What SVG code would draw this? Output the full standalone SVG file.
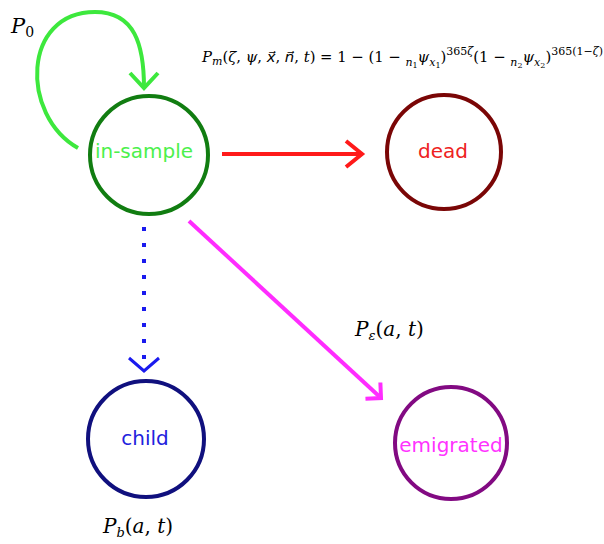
<svg xmlns="http://www.w3.org/2000/svg" width="604" height="544" viewBox="0 0 604 544">
  <style>
    .node { fill: #ffffff; stroke-width: 4; }
    .label { font-family: "DejaVu Sans", Verdana, sans-serif; font-size: 20px; text-anchor: middle; }
    .math { font-family: "DejaVu Serif", "Liberation Serif", serif; fill: #000000; }
    .it { font-style: italic; }
    .vec { font-family: "DejaVu Sans", sans-serif; font-style: italic; }
    .edge { fill: none; stroke-width: 4; }
  </style>
  <defs>
    <marker id="head-green" markerUnits="userSpaceOnUse" orient="auto" markerWidth="40" markerHeight="40" refX="0" refY="0" viewBox="-20 -20 40 40" overflow="visible">
      <path d="M-15,-14 L0,0 L-15,14" fill="none" stroke="#3de83d" stroke-width="4"/>
    </marker>
    <marker id="head-red" markerUnits="userSpaceOnUse" orient="auto" markerWidth="40" markerHeight="40" refX="0" refY="0" viewBox="-20 -20 40 40" overflow="visible">
      <path d="M-16,-13 L0,0 L-16,13" fill="none" stroke="#ff1a1a" stroke-width="4"/>
    </marker>
    <marker id="head-blue" markerUnits="userSpaceOnUse" orient="auto" markerWidth="40" markerHeight="40" refX="0" refY="0" viewBox="-20 -20 40 40" overflow="visible">
      <path d="M-13,-15 L0,0 L-13,15" fill="none" stroke="#1a1aee" stroke-width="3"/>
    </marker>
    <marker id="head-magenta" markerUnits="userSpaceOnUse" orient="auto" markerWidth="40" markerHeight="40" refX="0" refY="0" viewBox="-20 -20 40 40" overflow="visible">
      <path d="M-11,-11 L0,0 L-11,11" fill="none" stroke="#ff2cff" stroke-width="4"/>
    </marker>
  </defs>

  <!-- transitions between states -->
  <g id="connectors">
    <path id="loop-in-sample" class="edge" stroke="#3de83d" d="M78,148 C20,115 22,12 95,12 C135,12 144,45 144,88" marker-end="url(#head-green)"/>
    <path id="to-dead" class="edge" stroke="#ff1a1a" d="M222,154 L362,154" marker-end="url(#head-red)"/>
    <path id="to-child" class="edge" stroke="#1a1aee" stroke-dasharray="4 12" d="M144,227 L144,359"/>
    <path id="to-child-head" class="edge" stroke="none" d="M144,360 L144,371" marker-end="url(#head-blue)"/>
    <path id="to-emigrated" class="edge" stroke="#ff2cff" d="M189,221 L381,398" marker-end="url(#head-magenta)"/>
  </g>

  <g id="node-in-sample">
    <circle class="node" cx="149" cy="155" r="59" stroke="#117d11"/>
    <text class="label" x="144" y="158" fill="#4cf04c">in-sample</text>
  </g>
  <g id="node-dead">
    <circle class="node" cx="444" cy="152" r="57" stroke="#7a0606"/>
    <text class="label" x="443" y="158" fill="#ee2222">dead</text>
  </g>
  <g id="node-child">
    <circle class="node" cx="146" cy="439" r="58" stroke="#10107e"/>
    <text class="label" x="145" y="445" fill="#2222dd">child</text>
  </g>
  <g id="node-emigrated">
    <circle class="node" cx="451" cy="443" r="56" stroke="#820a82"/>
    <text class="label" x="451" y="452" fill="#ff33ff">emigrated</text>
  </g>

  <!-- transition probabilities -->
  <g id="labels">
    <text class="math" x="11" y="33" font-size="21"><tspan class="it">P</tspan><tspan font-size="14" dy="4">0</tspan></text>

    <text class="math" x="202" y="62" font-size="14.8"><tspan class="it">P</tspan><tspan class="it" font-size="11" dy="3">m</tspan><tspan dy="-3">(</tspan><tspan class="it">ζ</tspan>, <tspan class="it">ψ</tspan>, <tspan class="vec">x&#x20D7;</tspan>, <tspan class="vec">n&#x20D7;</tspan>, <tspan class="it">t</tspan>) =  1 − (1 − <tspan class="it" font-size="11" dy="4">n</tspan><tspan font-size="8" dy="2">1</tspan><tspan class="it" dy="-6">ψ</tspan><tspan class="it" font-size="11" dy="4">x</tspan><tspan font-size="8" dy="2">1</tspan><tspan dy="-6">)</tspan><tspan font-size="11" dy="-7">365<tspan class="it">ζ</tspan></tspan><tspan dy="7">(1 − </tspan><tspan class="it" font-size="11" dy="4">n</tspan><tspan font-size="8" dy="2">2</tspan><tspan class="it" dy="-6">ψ</tspan><tspan class="it" font-size="11" dy="4">x</tspan><tspan font-size="8" dy="2">2</tspan><tspan dy="-6">)</tspan><tspan font-size="11" dy="-7">365(1−<tspan class="it">ζ</tspan>)</tspan></text>

    <text class="math" x="355" y="336" font-size="20"><tspan class="it">P</tspan><tspan class="it" font-size="13" dy="4">ε</tspan><tspan dy="-4">(</tspan><tspan class="it">a</tspan>, <tspan class="it">t</tspan>)</text>

    <text class="math" x="103" y="533" font-size="20"><tspan class="it">P</tspan><tspan class="it" font-size="13" dy="4">b</tspan><tspan dy="-4">(</tspan><tspan class="it">a</tspan>, <tspan class="it">t</tspan>)</text>
  </g>
</svg>
